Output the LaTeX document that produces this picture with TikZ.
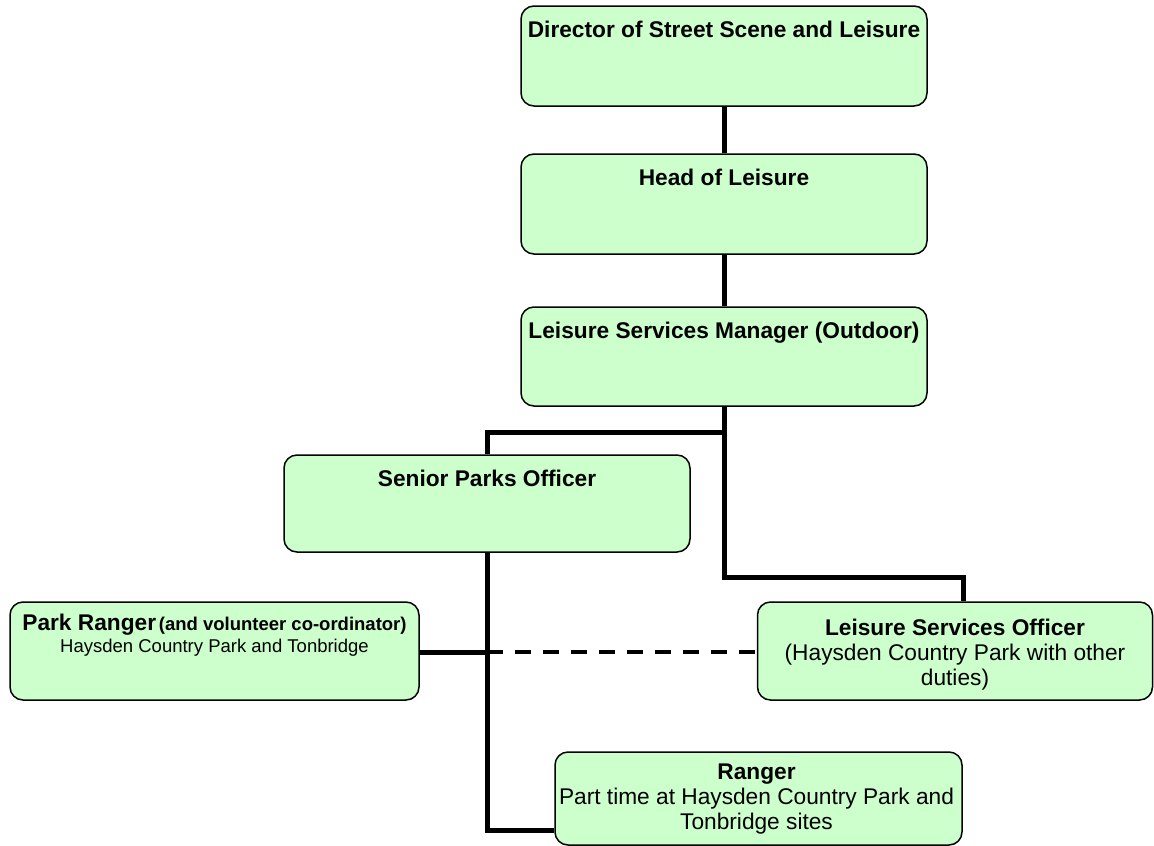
\documentclass[tikz,border=0pt]{standalone}
\usepackage{fontspec}
\setmainfont{Liberation Sans}
\begin{document}
\begin{tikzpicture}[x=1pt,y=-1pt,
  box/.style={draw=black, fill=boxgreen, rounded corners=13pt, line width=1.5pt, inner sep=0pt},
  lbl/.style={anchor=north, inner sep=0pt, align=center},
  big/.style={font=\fontsize{22.7}{25}\selectfont},
  conn/.style={line width=5pt},
  dconn/.style={line width=4pt, dash pattern=on 16pt off 12pt}]
\definecolor{boxgreen}{HTML}{CCFFCC}
\useasboundingbox (0,0) rectangle (1154,846);
% boxes
\node[box, minimum width=406pt, minimum height=100pt] (dir) at (724,56) {};
\node[box, minimum width=406pt, minimum height=100pt] (head) at (724,204) {};
\node[box, minimum width=406pt, minimum height=99pt] (lsm) at (724,356.5) {};
\node[box, minimum width=406pt, minimum height=97pt] (spo) at (487,503.5) {};
\node[box, minimum width=409pt, minimum height=98pt] (pr) at (214.5,651) {};
\node[box, minimum width=395pt, minimum height=98pt] (lso) at (955,651) {};
\node[box, minimum width=407pt, minimum height=93pt] (rg) at (758.5,798.5) {};
% labels
\node[lbl, big] (dirt) at ([yshift=-16pt]dir.north) {\bfseries Director of Street Scene and Leisure};
\node[lbl, big] (headt) at ([yshift=-16pt]head.north) {\bfseries Head of Leisure};
\node[lbl, big] (lsmt) at ([yshift=-16pt]lsm.north) {\bfseries Leisure Services Manager (Outdoor)};
\node[lbl, big] (spot) at ([yshift=-16pt]spo.north) {\bfseries Senior Parks Officer};
\node[lbl] (prt) at ([yshift=-13pt]pr.north) {{\fontsize{22.7}{25}\selectfont\bfseries Park Ranger} {\fontsize{18.5}{21}\selectfont\bfseries(and volunteer co-ordinator)}\\[2pt]
  {\fontsize{18.5}{21}\selectfont Haysden Country Park and Tonbridge}};
\node[lbl, big] (lsot) at ([yshift=-18pt]lso.north) {\bfseries Leisure Services Officer\\(Haysden Country Park with other\\duties)};
\node[lbl, big] (rgt) at ([xshift=-2pt,yshift=-12pt]rg.north) {\bfseries Ranger\\Part time at Haysden Country Park and\\Tonbridge sites};
% connectors
\coordinate (j1) at (724,432);
\coordinate (j2) at (487,432);
\coordinate (j3) at (724,577);
\coordinate (j4) at (963,577);
\coordinate (j5) at (487,652);
\coordinate (j6) at (487,830);
\coordinate (j7) at (rg.west |- j6);
\draw[conn] (dir.south) -- (head.north);
\draw[conn] (head.south) -- (lsm.north);
\draw[conn] (lsm.south) -- (j1);
\draw[conn] ([xshift=2.5pt]j1) -- (j2) -- (spo.north);
\draw[conn] (j1) -- (j3) -- (j4) -- (lso.north -| j4);
\draw[conn] (spo.south) -- (j6) -- (j7);
\draw[conn] (pr.east |- j5) -- (j5);
\draw[dconn] (j5) -- (lso.west |- j5);
\end{tikzpicture}
\end{document}
